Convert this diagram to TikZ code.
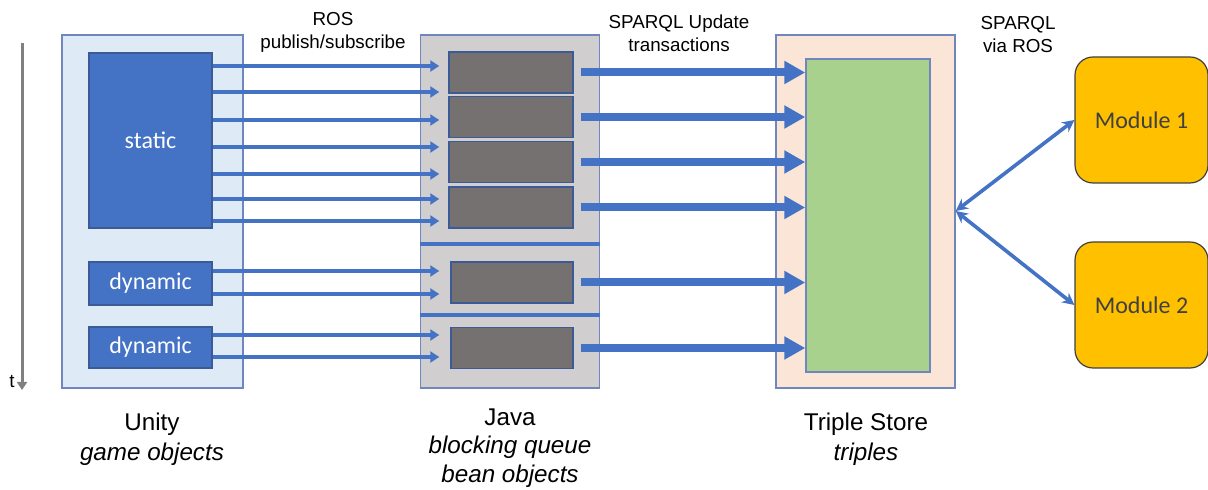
\documentclass[tikz,border=0pt]{standalone}
\usepackage{fontspec}
\setmainfont{Liberation Sans}
\newfontfamily\calibfont{Carlito}
\usepackage{xcolor}
\usepackage{tikz}
\usetikzlibrary{arrows.meta}

\definecolor{unityfill}{HTML}{DEEBF7}
\definecolor{javafill}{HTML}{D0CECE}
\definecolor{storefill}{HTML}{FBE5D6}
\definecolor{triplefill}{HTML}{A9D18E}
\definecolor{objblue}{HTML}{4472C4}
\definecolor{queuefill}{HTML}{767171}
\definecolor{modfill}{HTML}{FFC000}
\definecolor{framec}{HTML}{6F87BD}
\definecolor{queueedge}{HTML}{3C5A96}

\begin{document}
\begin{tikzpicture}[x=0.5pt, y=-0.5pt,
  cont/.style={draw=framec, line width=0.75pt, minimum width=89.5pt, minimum height=176.5pt, inner sep=0pt},
  obj/.style={draw=queueedge, fill=objblue, line width=0.6pt, minimum width=61.5pt, text=white, font=\calibfont\fontsize{12}{14}\selectfont, inner sep=0pt},
  queue/.style={draw=queueedge, fill=queuefill, line width=0.75pt, minimum width=62pt, minimum height=20.5pt, inner sep=0pt},
  module/.style={draw=black!75, fill=modfill, rounded corners=9pt, line width=0.6pt, minimum width=66.5pt, minimum height=63pt, text=black!75, font=\calibfont\fontsize{12}{14}\selectfont},
  toplabel/.style={align=center, font=\fontsize{9.4}{11.5}\selectfont},
  botlabel/.style={align=center, font=\fontsize{12.1}{14.8}\selectfont},
  thinarr/.style={draw=objblue, line width=1.7pt, -{Triangle[length=4.5pt, width=5.5pt]}},
  bigarr/.style={draw=objblue, line width=4pt, -{Triangle[length=10.5pt, width=11pt]}},
  duplex/.style={draw=objblue, line width=1.8pt, {Stealth[length=6pt, width=6pt]}-{Stealth[length=6pt, width=6pt]}}
]
\useasboundingbox (0,0) rectangle (1208,490);

% time axis
\coordinate (tstart) at (22,43);
\coordinate (tend) at (22,390);
\draw[gray, line width=1.5pt, -{Triangle[length=4pt, width=5pt]}] (tstart) -- (tend);
\node[font=\fontsize{9.4}{11}\selectfont] (tlabel) at (12,381) {t};

% containers
\node[cont, fill=unityfill, minimum width=90.5pt] (unity) at (152.5,211.5) {};
\node[cont, fill=javafill] (java) at (510,211.5) {};
\node[cont, fill=storefill] (store) at (865.5,211.5) {};

% game objects
\node[obj, minimum height=87.5pt] (static) at (150.5,140.5) {static};
\node[obj, minimum height=21.5pt] (dyn1) at (150.5,283.5) {dynamic};
\node[obj, minimum height=20.5pt] (dyn2) at (150.5,347.5) {dynamic};

% blocking queue
\node[queue] (q1) at (511,72.5) {};
\node[queue] (q2) at (511,117) {};
\node[queue] (q3) at (511,162) {};
\node[queue] (q4) at (511,207.5) {};
\node[queue, minimum width=61pt] (q5) at (512,282.5) {};
\node[queue, minimum width=61pt] (q6) at (512,348) {};
\draw[objblue, line width=2pt] (java.west |- 0,244) -- (java.east |- 0,244);
\draw[objblue, line width=2pt] (java.west |- 0,315) -- (java.east |- 0,315);

% triple store and modules
\node[draw=framec, fill=triplefill, line width=0.75pt, minimum width=62pt, minimum height=156.5pt, inner sep=0pt] (triples) at (868,215.5) {};
\node[module] (mod1) at (1141.5,120) {Module 1};
\node[module] (mod2) at (1141.5,305) {Module 2};

% labels
\node[toplabel] (roslabel) at (333,32) {ROS\\publish/subscribe};
\node[toplabel] (updlabel) at (679,33) {SPARQL Update\\transactions};
\node[toplabel] (vialabel) at (1018,35) {SPARQL\\via ROS};
\node[botlabel] (unitylabel) at (152,439) {Unity\\\textit{game objects}};
\node[botlabel, font=\fontsize{12.1}{14.3}\selectfont] (javalabel) at (510,448) {Java\\\textit{blocking queue}\\\textit{bean objects}};
\node[botlabel] (storelabel) at (866,439) {Triple Store\\\textit{triples}};

% publish/subscribe
\foreach \y in {66,92,120,147,174,199,221}
  \draw[thinarr] (static.east |- 0,\y) -- ([xshift=-4.5pt]q1.west |- 0,\y);
\foreach \y in {271,294}
  \draw[thinarr] (dyn1.east |- 0,\y) -- ([xshift=-4.5pt]q1.west |- 0,\y);
\foreach \y in {335,357}
  \draw[thinarr] (dyn2.east |- 0,\y) -- ([xshift=-4.5pt]q1.west |- 0,\y);

% update transactions
\foreach \q in {q1,q2,q3,q4,q5,q6}
  \draw[bigarr] ([xshift=3.5pt]\q.east) -- (triples.west |- \q.east);

% queries via ROS
\coordinate (hub) at (store.east |- 0,211);
\draw[duplex] (hub) -- (mod1.west);
\draw[duplex] (hub) -- (mod2.west);
\end{tikzpicture}
\end{document}
